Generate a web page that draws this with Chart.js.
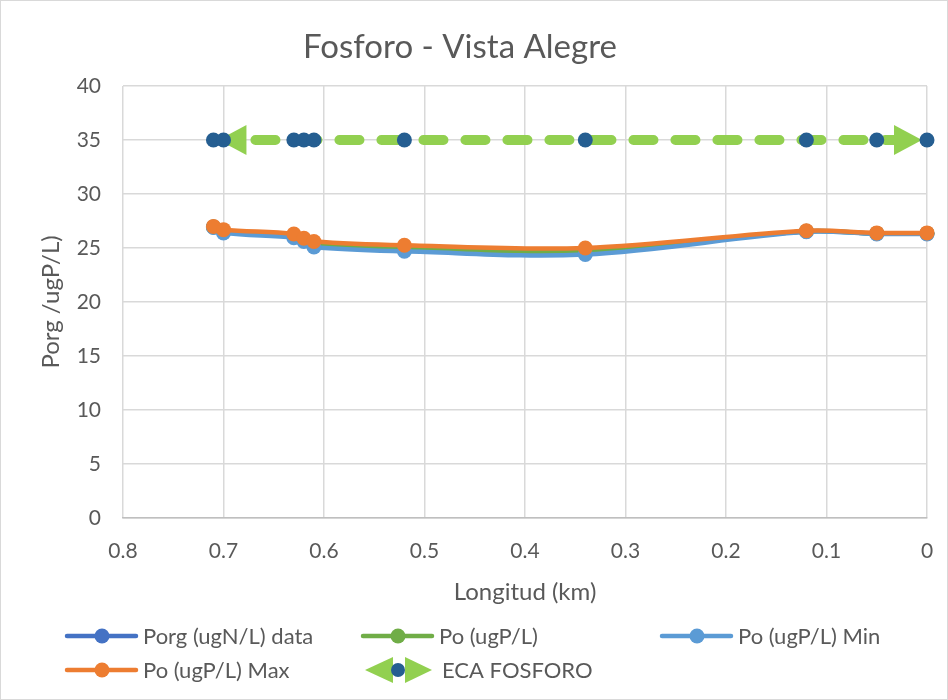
<!DOCTYPE html>
<html>
<head>
<meta charset="utf-8">
<title>Fosforo - Vista Alegre</title>
<script src="https://cdn.jsdelivr.net/npm/chart.js@4.4.1/dist/chart.umd.min.js"></script>
<style>
    html, body { margin: 0; padding: 0; background: #ffffff; }
    canvas { display: block; }
</style>
</head>
<body>
<canvas id="fosforoChart" width="948" height="700"></canvas>
<script>
// Distance along the river (km)
const distanceKm = [0.71, 0.70, 0.63, 0.62, 0.61, 0.52, 0.34, 0.12, 0.05, 0];

// Series values (ugP/L)
const porgData = [26.95, 26.55, 26.1, 25.75, 25.35, 24.95, 24.7, 26.55, 26.35, 26.35];
const poValues = [26.95, 26.55, 26.1, 25.75, 25.35, 24.95, 24.7, 26.55, 26.35, 26.35];
const poMin = [26.9, 26.4, 25.95, 25.6, 25.1, 24.7, 24.4, 26.5, 26.3, 26.3];
const poMax = [27.0, 26.7, 26.3, 25.9, 25.6, 25.25, 25.0, 26.6, 26.4, 26.4];
const ecaFosforo = [35, 35, 35, 35, 35, 35, 35, 35, 35, 35];

// Axis ticks
const xTickStep = 0.1;
const yTickStep = 5;

const FONT = "Lato, 'Open Sans', sans-serif";
const TEXT_COLOR = '#595959';

function toPoints(values) {
    return distanceKm.map(function(x, i) {
        return { x: x, y: values[i] };
    });
}

function seriesStyle(color, order) {
    return {
        borderColor: color,
        backgroundColor: color,
        borderWidth: 4.5,
        pointRadius: 7.5,
        pointHoverRadius: 7.5,
        pointBackgroundColor: color,
        pointBorderWidth: 0,
        tension: 0.35,
        clip: false,
        order: order
    };
}

// Legend entries drawn under the plot
const legendItems = [
    { label: 'Porg (ugN/L) data', color: '#4472C4', x: 67, y: 636 },
    { label: 'Po (ugP/L)', color: '#70AD47', x: 363, y: 636 },
    { label: 'Po (ugP/L) Min', color: '#5B9BD5', x: 662, y: 636 },
    { label: 'Po (ugP/L) Max', color: '#ED7D31', x: 67, y: 670 },
    { label: 'ECA FOSFORO', color: '#92D050', x: 365, y: 670, arrow: true }
];

function drawTriangle(ctx, tipX, baseX, y, half) {
    ctx.beginPath();
    ctx.moveTo(tipX, y);
    ctx.lineTo(baseX, y - half);
    ctx.lineTo(baseX, y + half);
    ctx.closePath();
    ctx.fill();
}

// Arrow heads on both ends of the ECA line
const ecaArrows = {
    id: 'ecaArrows',
    beforeDatasetDraw: function(chart, args) {
        const ds = chart.data.datasets[args.index];
        if (!ds.isEca) return;
        const pts = args.meta.data;
        if (pts.length < 2) return;
        const ctx = chart.ctx;
        const first = pts[0];
        const last = pts[pts.length - 1];
        ctx.save();
        ctx.fillStyle = '#92D050';
        drawTriangle(ctx, first.x + 5, first.x + 33, first.y, 15);
        drawTriangle(ctx, last.x - 5, last.x - 33, last.y, 15);
        ctx.restore();
    }
};

// Title, legend and outer frame
const chartDecor = {
    id: 'chartDecor',
    afterDraw: function(chart) {
        const ctx = chart.ctx;
        ctx.save();

        ctx.fillStyle = TEXT_COLOR;
        ctx.font = '33px ' + FONT;
        ctx.textAlign = 'center';
        ctx.textBaseline = 'middle';
        ctx.fillText('Fosforo - Vista Alegre', 460, 47);

        ctx.font = '22px ' + FONT;
        ctx.textAlign = 'left';
        legendItems.forEach(function(item) {
            if (item.arrow) {
                ctx.fillStyle = item.color;
                drawTriangle(ctx, item.x, item.x + 28, item.y, 13);
                drawTriangle(ctx, item.x + 67, item.x + 40, item.y, 13);
                ctx.fillStyle = '#255E91';
                ctx.beginPath();
                ctx.arc(item.x + 33, item.y, 7, 0, Math.PI * 2);
                ctx.fill();
                ctx.fillStyle = TEXT_COLOR;
                ctx.fillText(item.label, item.x + 77, item.y + 1);
            } else {
                ctx.strokeStyle = item.color;
                ctx.lineWidth = 4.5;
                ctx.lineCap = 'round';
                ctx.beginPath();
                ctx.moveTo(item.x, item.y);
                ctx.lineTo(item.x + 69, item.y);
                ctx.stroke();
                ctx.fillStyle = item.color;
                ctx.beginPath();
                ctx.arc(item.x + 35, item.y, 7.5, 0, Math.PI * 2);
                ctx.fill();
                ctx.fillStyle = TEXT_COLOR;
                ctx.fillText(item.label, item.x + 76, item.y + 1);
            }
        });

        ctx.strokeStyle = '#d9d9d9';
        ctx.lineWidth = 1;
        ctx.strokeRect(0.5, 0.5, chart.width - 1, chart.height - 1);
        ctx.restore();
    }
};

const ecaDataset = Object.assign(seriesStyle('#92D050', 1), {
    label: 'ECA FOSFORO',
    data: toPoints(ecaFosforo),
    borderWidth: 10,
    borderDash: [20, 22],
    borderCapStyle: 'round',
    pointBackgroundColor: '#255E91',
    pointBorderColor: '#255E91',
    tension: 0,
    isEca: true
});

new Chart(document.getElementById('fosforoChart'), {
    type: 'line',
    data: {
        datasets: [
            Object.assign(seriesStyle('#4472C4', 5), { label: 'Porg (ugN/L) data', data: toPoints(porgData) }),
            Object.assign(seriesStyle('#70AD47', 4), { label: 'Po (ugP/L)', data: toPoints(poValues) }),
            Object.assign(seriesStyle('#5B9BD5', 3), { label: 'Po (ugP/L) Min', data: toPoints(poMin) }),
            Object.assign(seriesStyle('#ED7D31', 2), { label: 'Po (ugP/L) Max', data: toPoints(poMax) }),
            ecaDataset
        ]
    },
    options: {
        responsive: false,
        devicePixelRatio: 1,
        animation: false,
        layout: {
            padding: { top: 86, right: 21, bottom: 82, left: 0 }
        },
        scales: {
            x: {
                type: 'linear',
                reverse: true,
                min: 0,
                max: 0.8,
                afterFit: function(scale) {
                    scale.height = 100;
                    scale.paddingLeft = 0;
                    scale.paddingRight = 0;
                },
                grid: { color: '#d9d9d9', lineWidth: 1.5, drawTicks: false },
                border: { color: '#bfbfbf', width: 1.5 },
                ticks: {
                    stepSize: xTickStep,
                    padding: 21,
                    color: TEXT_COLOR,
                    font: { family: FONT, size: 21 },
                    callback: function(value) { return String(+value.toFixed(1)); }
                },
                title: {
                    display: true,
                    text: 'Longitud (km)',
                    color: TEXT_COLOR,
                    font: { family: FONT, size: 24 },
                    padding: { top: 0, bottom: 11 }
                }
            },
            y: {
                min: 0,
                max: 40,
                afterFit: function(scale) { scale.width = 123; },
                grid: { color: '#d9d9d9', lineWidth: 1.5, drawTicks: false },
                border: { display: false },
                ticks: {
                    stepSize: yTickStep,
                    padding: 22,
                    color: TEXT_COLOR,
                    font: { family: FONT, size: 21 }
                },
                title: {
                    display: true,
                    text: 'Porg /ugP/L)',
                    color: TEXT_COLOR,
                    font: { family: FONT, size: 24 },
                    padding: { top: 37, bottom: 0 }
                }
            }
        },
        plugins: {
            legend: { display: false },
            tooltip: { enabled: false }
        }
    },
    plugins: [ecaArrows, chartDecor]
});
</script>
</body>
</html>
